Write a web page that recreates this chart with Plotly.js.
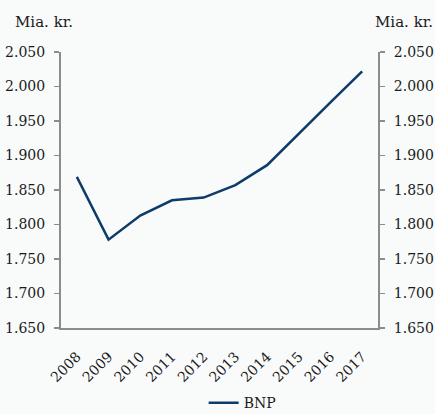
<!DOCTYPE html>
<html>
<head>
<meta charset="utf-8">
<script src="https://cdn.plot.ly/plotly-3.0.1.min.js"></script>
<style>html,body{margin:0;padding:0;background:#f9fafa;}</style>
</head>
<body>
<div id="chart" style="width:435px;height:414px;"></div>
<script>
const years = ["2008","2009","2010","2011","2012","2013","2014","2015","2016","2017"];
const bnp = [1869, 1778, 1813, 1835, 1839, 1857, 1886, 1932, 1977, 2022];
const seriesName = "BNP";
const unitLabel = "Mia. kr.";

const fontFam = "'DejaVu Serif', serif";
const axisColor = "#8c8c8c";
const lineColor = "#0d3c6a";
const txt = "#1a1a1a";

const traces = [
  {x: years, y: bnp, type: "scatter", mode: "lines", name: seriesName,
   line: {color: lineColor, width: 2.5}, yaxis: "y"},
  {x: years, y: bnp, type: "scatter", mode: "lines", name: seriesName,
   line: {color: "rgba(0,0,0,0)", width: 0}, yaxis: "y2", showlegend: false, hoverinfo: "skip"}
];

const yCommon = {
  range: [1650, 2050], dtick: 50, tick0: 1650, tickformat: ",d",
  showgrid: false, zeroline: false, showline: true, linecolor: axisColor, linewidth: 2,
  ticks: "outside", ticklen: 5, tickcolor: axisColor, tickwidth: 1.5,
  ticklabelstandoff: 6,
  tickfont: {family: fontFam, size: 14, color: txt}, fixedrange: true
};

const layout = {
  width: 435, height: 414,
  margin: {l: 61, r: 57, t: 52, b: 86},
  paper_bgcolor: "#f9fafa", plot_bgcolor: "#f9fafa",
  separators: ",.",
  showlegend: true,
  font: {family: fontFam, size: 14, color: txt},
  xaxis: {
    type: "category", range: [-0.5, 9.5], showgrid: false, zeroline: false,
    showline: true, linecolor: axisColor, linewidth: 2,
    ticks: "outside", ticklen: 13, tickcolor: "rgba(0,0,0,0)",
    tickangle: -45, tickfont: {family: fontFam, size: 14, color: txt}, automargin: false
  },
  yaxis: Object.assign({side: "left"}, yCommon),
  yaxis2: Object.assign({side: "right", overlaying: "y"}, yCommon),
  legend: {orientation: "h", x: 0.45, xanchor: "left", yref: "container", y: 0.026, yanchor: "middle",
           font: {family: fontFam, size: 14, color: txt}, bgcolor: "rgba(0,0,0,0)"},
  annotations: [
    {text: unitLabel, xref: "paper", yref: "paper", x: -0.152, y: 1.07, xanchor: "left", yanchor: "bottom",
     showarrow: false, font: {family: fontFam, size: 15, color: txt}},
    {text: unitLabel, xref: "paper", yref: "paper", x: 1.18, y: 1.07, xanchor: "right", yanchor: "bottom",
     showarrow: false, font: {family: fontFam, size: 15, color: txt}}
  ]
};

Plotly.newPlot("chart", traces, layout, {displayModeBar: false, staticPlot: true});
</script>
</body>
</html>
